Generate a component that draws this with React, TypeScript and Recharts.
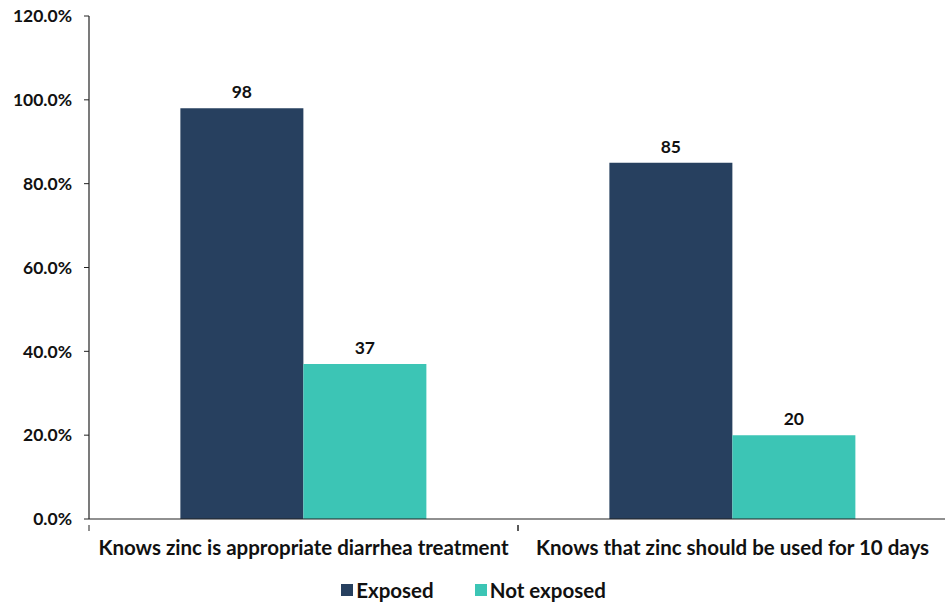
import { BarChart, Bar, XAxis, YAxis, Legend, LabelList } from "recharts";

// ── Data ──────────────────────────────────────────────────────────────────────

const categories = [
  "Knows zinc is appropriate diarrhea treatment",
  "Knows that zinc should be used for 10 days",
];
const exposed = [98, 85];
const notExposed = [37, 20];
const yTicks = [0, 20, 40, 60, 80, 100, 120];

const data = categories.map((name, i) => ({
  name,
  exposed: exposed[i],
  notExposed: notExposed[i],
}));

const FONT = "Lato, 'Gill Sans', sans-serif";
const NAVY = "#27405f";
const TEAL = "#3cc5b5";
const AXIS = "#222";
const TEXT = "#111";

// Category label plus the little tick marks at both edges of the band
function CategoryTick(props: any) {
  const { x, y, payload } = props;
  const half = payload?.offset ?? 214.5;
  return (
    <g>
      <line x1={x - half} y1={y - 14} x2={x - half} y2={y - 8} stroke={AXIS} />
      <line x1={x + half} y1={y - 14} x2={x + half} y2={y - 8} stroke={AXIS} />
      <text
        x={x}
        y={y + 11}
        textAnchor="middle"
        dominantBaseline="middle"
        style={{ fontFamily: FONT, fontWeight: 700, fontSize: 20.5, fill: TEXT }}
      >
        {payload.value}
      </text>
    </g>
  );
}

function LegendContent() {
  const items = [
    { label: "Exposed", color: NAVY },
    { label: "Not exposed", color: TEAL },
  ];
  return (
    <div style={{ display: "flex", justifyContent: "center", gap: 41, marginTop: 4 }}>
      {items.map((it) => (
        <div key={it.label} style={{ display: "flex", alignItems: "center", gap: 3 }}>
          <div style={{ width: 12, height: 12, background: it.color }} />
          <span style={{ fontFamily: FONT, fontWeight: 700, fontSize: 20.5, color: TEXT, lineHeight: "22px" }}>
            {it.label}
          </span>
        </div>
      ))}
    </div>
  );
}

export default function App() {
  return (
    <div style={{ position: "absolute", left: 0, top: 0, background: "#fff" }}>
      <BarChart
        width={947}
        height={605}
        data={data}
        margin={{ top: 16, right: 0, bottom: 0, left: 0 }}
        barCategoryGap="21.3%"
        barGap={0}
      >
        <XAxis
          dataKey="name"
          tickLine={false}
          axisLine={{ stroke: AXIS, strokeWidth: 1.2 }}
          tick={<CategoryTick />}
          tickMargin={14}
          height={56}
        />
        <YAxis
          domain={[0, 120]}
          ticks={yTicks}
          tickFormatter={(v: number) => `${v.toFixed(1)}%`}
          tick={{ fontFamily: FONT, fontWeight: 700, fontSize: 17.5, fill: TEXT }}
          axisLine={{ stroke: AXIS, strokeWidth: 1.2 }}
          tickLine={{ stroke: AXIS }}
          tickSize={5}
          tickMargin={12}
          width={89}
        />
        <Legend verticalAlign="bottom" height={30} content={<LegendContent />} />
        <Bar dataKey="exposed" name="Exposed" fill={NAVY} isAnimationActive={false}>
          <LabelList
            dataKey="exposed"
            position="top"
            offset={10}
            style={{ fontFamily: FONT, fontWeight: 700, fontSize: 17.5, fill: TEXT }}
          />
        </Bar>
        <Bar dataKey="notExposed" name="Not exposed" fill={TEAL} isAnimationActive={false}>
          <LabelList
            dataKey="notExposed"
            position="top"
            offset={10}
            style={{ fontFamily: FONT, fontWeight: 700, fontSize: 17.5, fill: TEXT }}
          />
        </Bar>
      </BarChart>
    </div>
  );
}
